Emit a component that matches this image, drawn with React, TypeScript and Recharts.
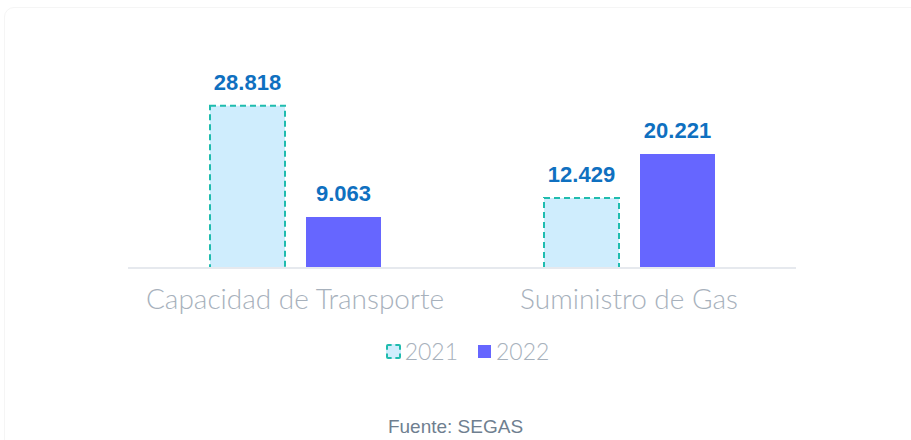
import { BarChart, Bar, XAxis, YAxis, LabelList, Legend } from "recharts";

const categories = ["Capacidad de Transporte", "Suministro de Gas"];
const values2021 = [28818, 12429];
const values2022 = [9063, 20221];
const seriesNames = ["2021", "2022"];

const data = categories.map((c, i) => ({
  name: c,
  y2021: values2021[i],
  y2022: values2022[i],
}));

const fmt = (v: any) => String(v).replace(/\B(?=(\d{3})+(?!\d))/g, ".");

const THIN_FONT = "Lato, 'Liberation Sans', sans-serif";
const BOLD_FONT = "'Liberation Sans', Arial, sans-serif";

const labelStyle = {
  fill: "#0f70c0",
  fontSize: 22,
  fontWeight: 700,
  fontFamily: BOLD_FONT,
};

function LegendBox() {
  return (
    <div
      style={{
        display: "flex",
        justifyContent: "center",
        alignItems: "center",
        gap: 20,
        fontFamily: THIN_FONT,
        fontWeight: 300,
        fontSize: 23,
        color: "#a7b1bc",
        paddingLeft: 24,
      }}
    >
      <span style={{ display: "flex", alignItems: "center" }}>
        <span
          style={{
            width: 11,
            height: 11,
            background: "#cfedfd",
            border: "2px dashed #1fbcae",
            borderRadius: 2,
            marginRight: 4,
          }}
        />
        {seriesNames[0]}
      </span>
      <span style={{ display: "flex", alignItems: "center" }}>
        <span
          style={{ width: 13, height: 13, background: "#6666ff", marginRight: 5 }}
        />
        {seriesNames[1]}
      </span>
    </div>
  );
}

export default function App() {
  return (
    <div
      style={{
        position: "fixed",
        left: 0,
        top: 0,
        width: 911,
        height: 440,
        background: "#ffffff",
        overflow: "hidden",
      }}
    >
      <div
        style={{
          position: "absolute",
          left: 4,
          top: 7,
          width: 940,
          height: 460,
          border: "1px solid #f5f5f5",
          borderRadius: 10,
        }}
      />
      <BarChart
        width={911}
        height={400}
        data={data}
        margin={{ top: 99, right: 115, left: 128, bottom: 82 }}
        barSize={75}
        barGap={21}
        style={{ position: "absolute", left: 0, top: 0 }}
      >
        <YAxis hide domain={[0, 30000]} />
        <XAxis
          dataKey="name"
          tickLine={false}
          axisLine={{ stroke: "#e6e9ee", strokeWidth: 2 }}
          tickMargin={15}
          height={50}
          tick={{ fill: "#a7b1bc", fontSize: 28, fontFamily: THIN_FONT, fontWeight: 300 }}
        />
        <Legend
          verticalAlign="middle"
          align="center"
          wrapperStyle={{ top: 337, left: 0, width: 911 }}
          content={() => <LegendBox />}
        />
        <Bar
          dataKey="y2021"
          name={seriesNames[0]}
          fill="#cfedfd"
          stroke="#1fbcae"
          strokeWidth={2}
          strokeDasharray="6 4"
          isAnimationActive={false}
        >
          <LabelList
            dataKey="y2021"
            position="top"
            offset={16}
            formatter={fmt}
            style={labelStyle}
          />
        </Bar>
        <Bar
          dataKey="y2022"
          name={seriesNames[1]}
          fill="#6666ff"
          isAnimationActive={false}
        >
          <LabelList
            dataKey="y2022"
            position="top"
            offset={16}
            formatter={fmt}
            style={labelStyle}
          />
        </Bar>
      </BarChart>
      <div
        style={{
          position: "absolute",
          top: 417,
          left: 0,
          width: 911,
          textAlign: "center",
          fontFamily: BOLD_FONT,
          fontSize: 19,
          lineHeight: "19px",
          color: "#6f7f90",
        }}
      >
        Fuente: SEGAS
      </div>
    </div>
  );
}
